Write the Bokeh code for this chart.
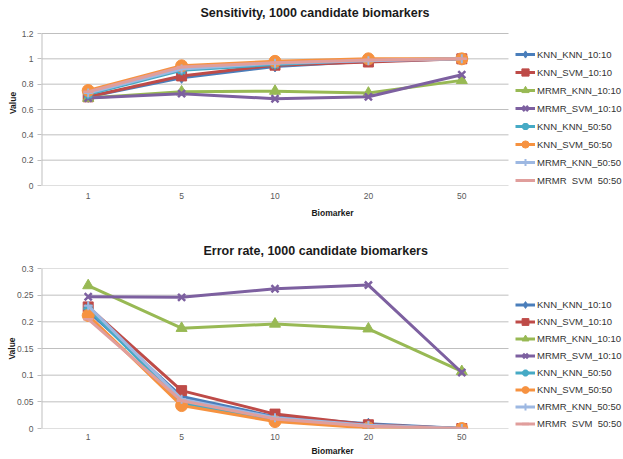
from bokeh.plotting import figure
from bokeh.models import (Range1d, FixedTicker, CustomJSTickFormatter, Legend, LegendItem)
from bokeh.layouts import column
from bokeh.embed import file_html
from bokeh.resources import INLINE

# ---------------- data ----------------
biomarkers = ["1", "5", "10", "20", "50"]
series_names = ["KNN_KNN_10:10", "KNN_SVM_10:10", "MRMR_KNN_10:10", "MRMR_SVM_10:10",
                "KNN_KNN_50:50", "KNN_SVM_50:50", "MRMR_KNN_50:50", "MRMR_SVM_50:50"]

sens_knn_knn_1010 = [0.70, 0.85, 0.94, 0.98, 1.00]
sens_knn_svm_1010 = [0.70, 0.865, 0.95, 0.975, 1.00]
sens_mrmr_knn_1010 = [0.69, 0.74, 0.745, 0.73, 0.83]
sens_mrmr_svm_1010 = [0.69, 0.725, 0.685, 0.70, 0.875]
sens_knn_knn_5050 = [0.72, 0.91, 0.955, 0.99, 1.00]
sens_knn_svm_5050 = [0.75, 0.945, 0.98, 1.00, 1.00]
sens_mrmr_knn_5050 = [0.73, 0.92, 0.965, 0.985, 1.00]
sens_mrmr_svm_5050 = [0.74, 0.935, 0.97, 0.99, 1.00]

err_knn_knn_1010 = [0.220, 0.060, 0.022, 0.009, 0.0]
err_knn_svm_1010 = [0.228, 0.071, 0.027, 0.007, 0.0]
err_mrmr_knn_1010 = [0.268, 0.188, 0.196, 0.187, 0.107]
err_mrmr_svm_1010 = [0.247, 0.246, 0.262, 0.269, 0.105]
err_knn_knn_5050 = [0.225, 0.048, 0.016, 0.004, 0.0]
err_knn_svm_5050 = [0.212, 0.043, 0.013, 0.001, 0.0]
err_mrmr_knn_5050 = [0.230, 0.055, 0.020, 0.006, 0.0]
err_mrmr_svm_5050 = [0.205, 0.052, 0.018, 0.004, 0.0]

sens_ticks = [0, 0.2, 0.4, 0.6, 0.8, 1.0, 1.2]
err_ticks = [0, 0.05, 0.1, 0.15, 0.2, 0.25, 0.3]

sens_series = [sens_knn_knn_1010, sens_knn_svm_1010, sens_mrmr_knn_1010, sens_mrmr_svm_1010,
               sens_knn_knn_5050, sens_knn_svm_5050, sens_mrmr_knn_5050, sens_mrmr_svm_5050]
err_series = [err_knn_knn_1010, err_knn_svm_1010, err_mrmr_knn_1010, err_mrmr_svm_1010,
              err_knn_knn_5050, err_knn_svm_5050, err_mrmr_knn_5050, err_mrmr_svm_5050]

# category slots (one unit per biomarker count, centred in its slot)
n_cat = len(biomarkers)
xs = [i + 0.5 for i in range(n_cat)]

# ---------------- styles ----------------
colors = ["#4A7EBB", "#BE4B48", "#98B954", "#7D60A0", "#46AAC5", "#F69240", "#9DB8E2", "#E09E9C"]
markers = ["diamond", "square", "triangle", "x", "asterisk", "circle", "cross", "dash"]
msizes = [11, 10, 11, 10, 10, 12, 9, 10]
mlw = [1, 1, 1, 2.5, 2.5, 1, 2, 2.5]

FONT = "Liberation Sans"
GRID = "#BFBFBF"
TXT = "#595959"

yfmt = CustomJSTickFormatter(code="return String(Math.round(tick*1000)/1000);")
xfmt = CustomJSTickFormatter(args=dict(labels=biomarkers),
                             code="return labels[Math.floor(tick)];")


def make_chart(series, ticks, ymax, title, h, top, bottom, left, plot_w, grid_top,
               title_off, title_standoff,
               leg_xy, leg_h, value_standoff, lab_standoff, bio_standoff):
    frame_w = 623 - left
    x_end = n_cat * frame_w / plot_w      # chart area ends at plot_w px, legend beyond
    frame_h = h - top - bottom
    y_end = ymax * frame_h / (frame_h - grid_top)   # room above the top gridline
    p = figure(width=623, height=h, x_range=Range1d(0, x_end),
               y_range=Range1d(0, y_end), output_backend="svg", toolbar_location=None,
               min_border_top=top, min_border_bottom=bottom, min_border_left=left,
               min_border_right=0)
    p.outline_line_color = None
    p.title.text = title
    p.title.text_font = FONT
    p.title.text_font_size = "12.5px"
    p.title.text_font_style = "bold"
    p.title.text_color = "#1a1a1a"
    p.title.align = "left"
    p.title.offset = title_off
    p.title.vertical_align = "bottom"
    p.title.standoff = title_standoff

    p.grid.visible = False
    # horizontal gridlines across the category area only
    p.segment(x0=[0] * len(ticks), y0=ticks, x1=[n_cat] * len(ticks), y1=ticks,
              line_color=GRID, line_width=1)
    # vertical axis line from 0 up to the top gridline
    p.segment(x0=[0], y0=[0], x1=[0], y1=[ymax], line_color=GRID, line_width=2)

    p.yaxis.ticker = FixedTicker(ticks=ticks)
    p.yaxis.formatter = yfmt
    p.yaxis.minor_tick_line_color = None
    p.yaxis.major_tick_in = 0
    p.yaxis.major_tick_out = 4
    p.yaxis.major_tick_line_color = GRID
    p.yaxis.axis_line_color = None
    p.yaxis.major_label_standoff = 4
    p.yaxis.axis_label = "Value"
    p.yaxis.axis_label_standoff = value_standoff

    p.xaxis.ticker = FixedTicker(ticks=xs)
    p.xaxis.formatter = xfmt
    p.xaxis.minor_tick_line_color = None
    p.xaxis.axis_line_color = None
    p.xaxis.major_tick_line_color = None
    p.xaxis.major_tick_out = 0
    p.xaxis.major_tick_in = 0
    p.xaxis.major_label_standoff = lab_standoff
    p.xaxis.axis_label = "Biomarker"
    p.xaxis.axis_label_standoff = bio_standoff
    for ax in (p.xaxis[0], p.yaxis[0]):
        ax.major_label_text_font = FONT
        ax.major_label_text_font_size = "8.5px"
        ax.major_label_text_color = TXT
        ax.axis_label_text_font = FONT
        ax.axis_label_text_font_size = "8.5px"
        ax.axis_label_text_font_style = "bold"
        ax.axis_label_text_color = "#1a1a1a"

    items = []
    for name, vals, c, m, s, lw in zip(series_names, series, colors, markers, msizes, mlw):
        lr = p.line(xs, vals, line_color=c, line_width=3)
        sr = p.scatter(xs, vals, marker=m, size=s, fill_color=c,
                       line_color=c, line_width=lw)
        items.append(LegendItem(label=name, renderers=[lr, sr]))

    leg = Legend(items=items, location=leg_xy, orientation="vertical",
                 padding=0, margin=0, spacing=0, glyph_width=20, glyph_height=leg_h,
                 label_height=leg_h, label_standoff=2, label_text_font=FONT,
                 label_text_font_size="9.5px", label_text_color="#333333",
                 background_fill_alpha=0, border_line_color=None)
    p.add_layout(leg)
    return p


p1 = make_chart(sens_series, sens_ticks, 1.2, "Sensitivity, 1000 candidate biomarkers",
                229, 20, 44, 41, 467, 13, 159, 2, (474, -4), 18, 1, 7, 6)
p2 = make_chart(err_series, err_ticks, 0.3, "Error rate, 1000 candidate biomarkers",
                230, 39, 31, 41, 467, 0, 162, 22, (474, -4), 17, -3, 5, 3)

layout = column(p1, p2, spacing=0)
open("out.html", "w").write(file_html(layout, INLINE))
